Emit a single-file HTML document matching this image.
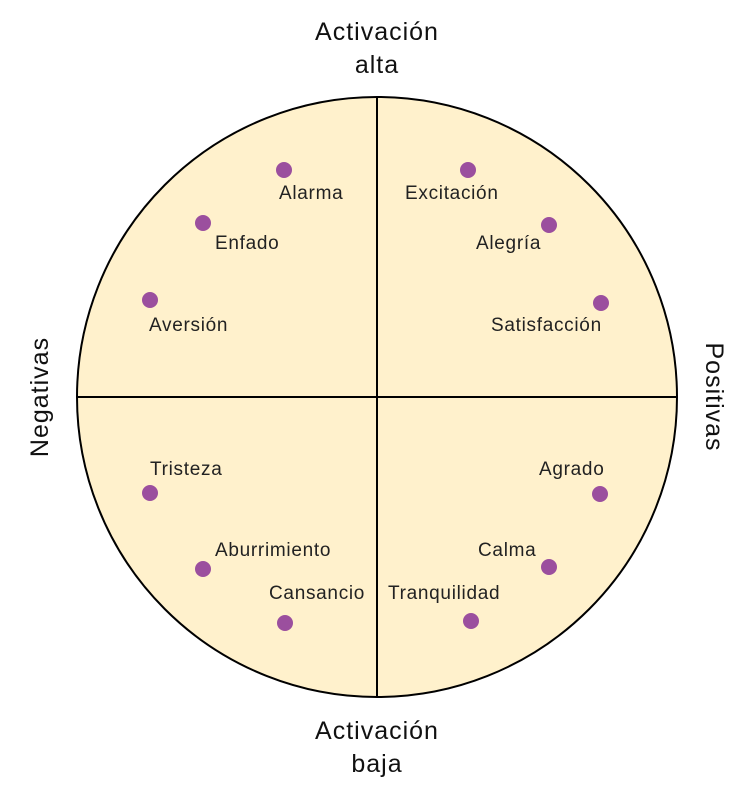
<!DOCTYPE html>
<html><head><meta charset="utf-8"><style>html,body{margin:0;padding:0;background:#fff}svg{display:block}</style></head>
<body>
<svg width="754" height="796" viewBox="0 0 754 796" xmlns="http://www.w3.org/2000/svg" font-family="Liberation Sans, sans-serif">
<circle cx="377" cy="397" r="300" fill="#fff1cc" stroke="#000" stroke-width="2"/>
<line x1="377" y1="97" x2="377" y2="697" stroke="#000" stroke-width="2"/>
<line x1="77" y1="397" x2="677" y2="397" stroke="#000" stroke-width="2"/>
<g font-size="25" fill="#111" text-anchor="middle" letter-spacing="1" font-weight="500">
<text x="377" y="40">Activación</text><text x="377" y="73">alta</text>
<text x="377" y="739">Activación</text><text x="377" y="772">baja</text>
<text transform="translate(48,397) rotate(-90)">Negativas</text>
<text transform="translate(706,397) rotate(90)">Positivas</text>
</g>
<g fill="#9b4f9e">
<circle cx="284" cy="170" r="8"/><circle cx="203" cy="223" r="8"/><circle cx="150" cy="300" r="8"/>
<circle cx="468" cy="170" r="8"/><circle cx="549" cy="225" r="8"/><circle cx="601" cy="303" r="8"/>
<circle cx="150" cy="493" r="8"/><circle cx="203" cy="569" r="8"/><circle cx="285" cy="623" r="8"/>
<circle cx="600" cy="494" r="8"/><circle cx="549" cy="567" r="8"/><circle cx="471" cy="621" r="8"/>
</g>
<g font-size="19" fill="#222" letter-spacing="0.7">
<text x="279" y="199">Alarma</text><text x="215" y="249">Enfado</text><text x="149" y="331">Aversión</text>
<text x="405" y="199">Excitación</text><text x="476" y="249">Alegría</text><text x="491" y="331">Satisfacción</text>
<text x="150" y="475">Tristeza</text><text x="215" y="556">Aburrimiento</text><text x="269" y="599">Cansancio</text>
<text x="539" y="475">Agrado</text><text x="478" y="556">Calma</text><text x="388" y="599">Tranquilidad</text>
</g>
</svg>
</body></html>
